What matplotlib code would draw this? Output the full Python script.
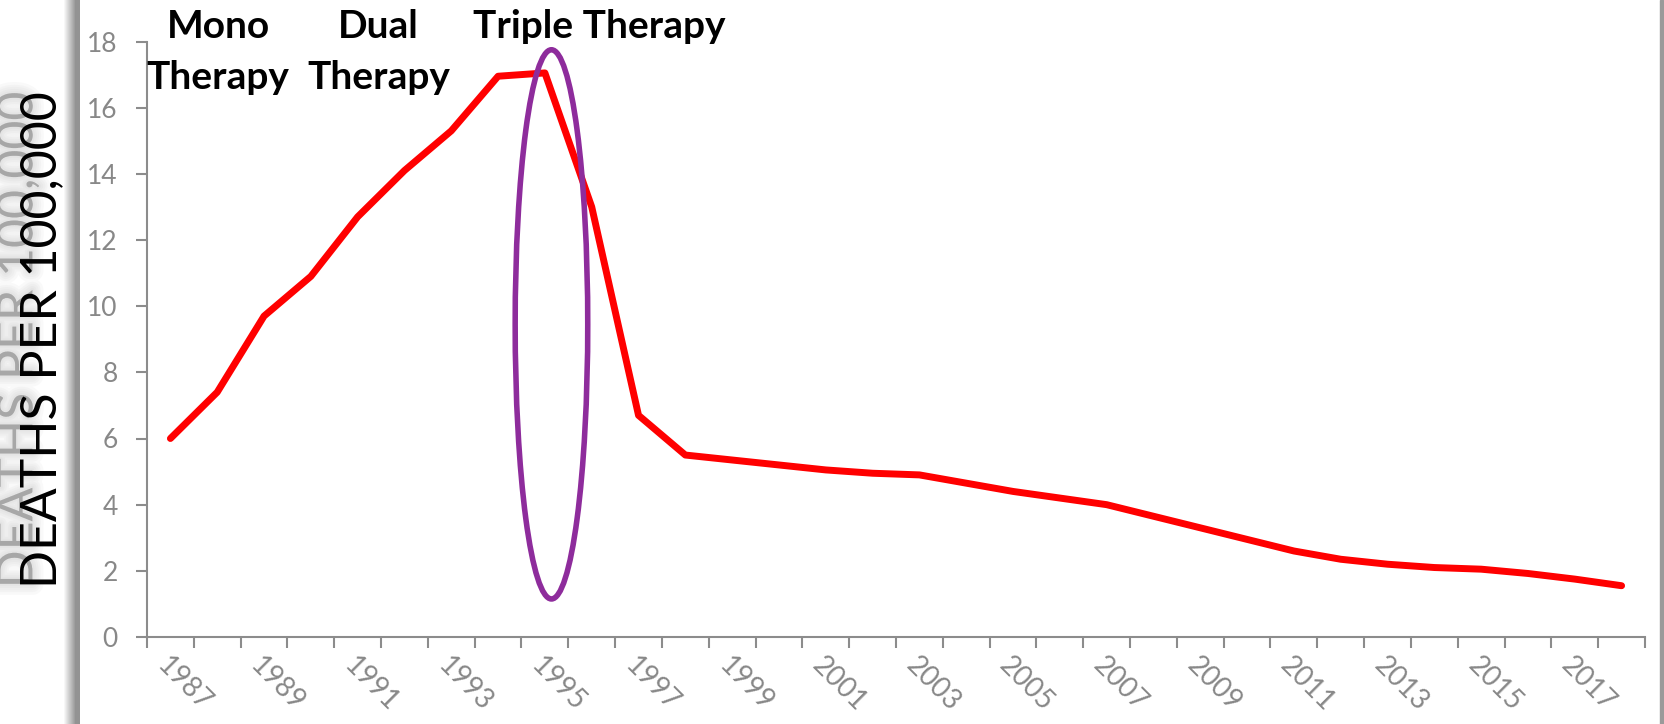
import matplotlib
matplotlib.use('Agg')
import matplotlib.pyplot as plt
import matplotlib.patheffects as pe
from matplotlib.patches import Ellipse, Rectangle
import numpy as np

# deaths per 100,000 by year
years = list(range(1987, 2019))
deaths = [6.0, 7.4, 9.7, 10.9, 12.7, 14.1, 15.3, 16.95, 17.05, 13.0,
          6.7, 5.5, 5.35, 5.2, 5.05, 4.95, 4.9, 4.65, 4.4, 4.2,
          4.0, 3.65, 3.3, 2.95, 2.6, 2.35, 2.2, 2.1, 2.05, 1.92,
          1.75, 1.55]
year_labels = [str(y) for y in years[::2]]
yticks = list(range(0, 20, 2))
phase_labels = ['Mono\nTherapy', 'Dual\nTherapy', 'Triple Therapy']
ylabel = 'DEATHS PER 100,000'

plt.rcParams['font.family'] = ['Lato', 'DejaVu Sans']
W, H = 1665, 724
fig = plt.figure(figsize=(W / 100, H / 100), dpi=100)
fig.patch.set_facecolor('white')

ax = fig.add_axes([147 / W, 1 - 637 / H, (1645 - 147) / W, (637 - 41.5) / H])
x = np.arange(len(years))
ax.plot(x, deaths, color='#ff0000', lw=5, solid_capstyle='round',
        solid_joinstyle='round', zorder=3)

ax.set_xlim(-0.5, len(years) - 0.5)
ax.set_ylim(0, 18)
for s in ['top', 'right']:
    ax.spines[s].set_visible(False)
for s in ['left', 'bottom']:
    ax.spines[s].set_color('#8c8c8c')
    ax.spines[s].set_linewidth(1.5)

ax.set_yticks(yticks)
ax.tick_params(axis='y', direction='out', length=8, width=1.5, color='#8c8c8c',
               labelcolor='#888888', labelsize=19, pad=13)
ax.set_xticks(x[::2])
ax.set_xticklabels(year_labels, rotation=-45, ha='left', va='top',
                   rotation_mode='anchor')
ax.set_xticks(np.arange(-0.5, len(years)), minor=True)
ax.tick_params(axis='x', which='major', length=0, labelcolor='#888888',
               labelsize=20, pad=11)
ax.tick_params(axis='x', which='minor', direction='out', length=8, width=1.5,
               color='#8c8c8c')

# purple ellipse around 1995
ax.add_patch(Ellipse((8.14, 9.45), 1.55, 16.6, fill=False, ec='#8e2c9c',
                     lw=4, zorder=4, clip_on=False))

# therapy phase labels
bold = dict(fontsize=28, fontweight='bold', color='black', ha='center',
            va='baseline', clip_on=False)
ax.text(1.02, 18.1, 'Mono', **bold)
ax.text(1.02, 16.56, 'Therapy', **bold)
ax.text(4.45, 18.1, 'Dual', **bold)
ax.text(4.45, 16.56, 'Therapy', **bold)
ax.text(9.16, 18.1, phase_labels[2], **bold)

# left grey frame band and right edge
band = np.concatenate([np.linspace(1.0, 0.62, 12), np.full(5, 0.58)])
bax = fig.add_axes([63 / W, 0, 17 / W, 1])
bax.imshow(band[None, :], cmap='gray', vmin=0, vmax=1, aspect='auto')
bax.axis('off')
fig.add_artist(Rectangle((1660 / W, 0), 3 / W, 1, transform=fig.transFigure,
                         color='#9a9a9a'))

# y label with a soft blurred shadow on its left
blur = [pe.Stroke(linewidth=w, foreground='#b0b0b0', alpha=0.07, offset=(-17, 0))
        for w in (16, 12, 9, 6, 3)]
fig.text(42 / W, 1 - 340 / H, ylabel, rotation=90, ha='center', va='center',
         fontsize=36, color='none', path_effects=blur)
fig.text(42 / W, 1 - 340 / H, ylabel, rotation=90, ha='center', va='center',
         fontsize=36, color='black')

fig.savefig('out.png', dpi=100)
